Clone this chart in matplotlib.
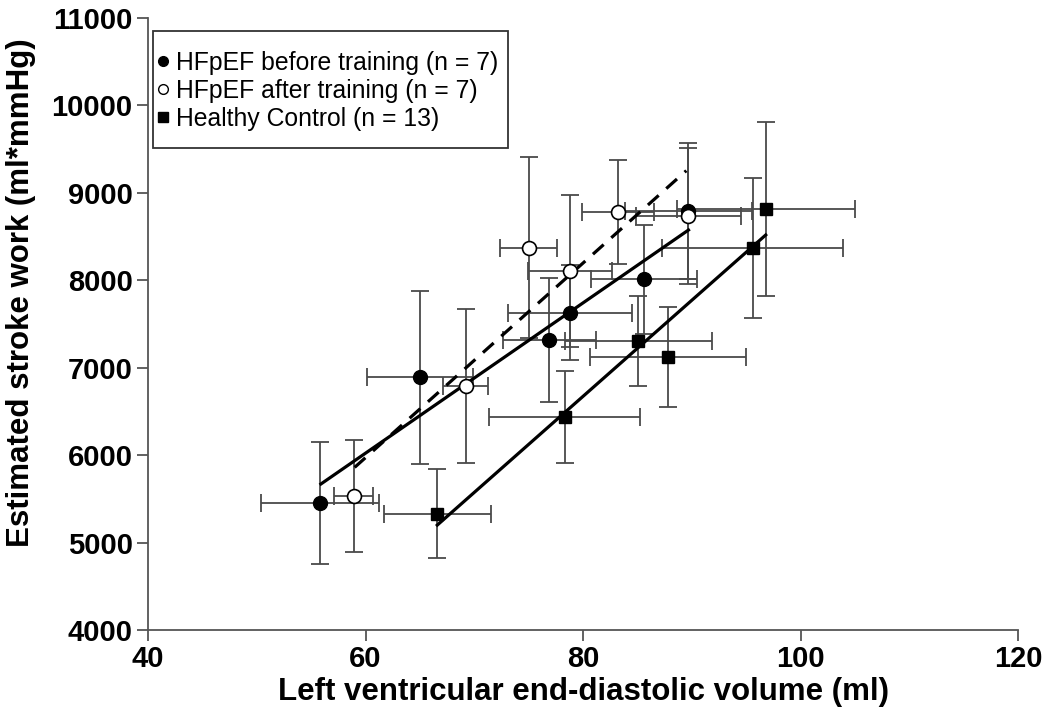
import numpy as np
import matplotlib
matplotlib.use('Agg')
import matplotlib.pyplot as plt
from matplotlib.lines import Line2D
from matplotlib.patches import Rectangle

plt.rcParams['font.family'] = ['Liberation Sans', 'DejaVu Sans']

# HFpEF before training (filled circles)
before_x = [55.8, 65.0, 76.9, 78.8, 85.6, 89.7]
before_y = [5450, 6890, 7315, 7630, 8010, 8795]
before_xerr = [5.4, 4.9, 4.3, 5.7, 4.9, 5.8]
before_yerr = [700, 990, 710, 540, 620, 780]

# HFpEF after training (open circles)
after_x = [58.9, 69.2, 75.0, 78.8, 83.2, 89.7]
after_y = [5535, 6790, 8375, 8110, 8785, 8735]
after_xerr = [1.8, 2.1, 2.65, 3.9, 3.3, 4.8]
after_yerr = [640, 885, 1030, 870, 595, 775]

# Healthy control (squares)
ctrl_x = [66.6, 78.3, 85.1, 87.8, 95.6, 96.8]
ctrl_y = [5330, 6435, 7310, 7120, 8370, 8815]
ctrl_xerr = [4.9, 6.95, 6.8, 7.2, 8.3, 8.2]
ctrl_yerr = [510, 525, 515, 572, 800, 997]

# regression line end points
before_fit_x = [55.9, 89.7]
before_fit_y = [5670, 8575]
after_fit_x = [59.0, 89.5]
after_fit_y = [5860, 9254]
ctrl_fit_x = [66.6, 96.8]
ctrl_fit_y = [5200, 8518]

labels = ['HFpEF before training (n = 7)',
          'HFpEF after training (n = 7)',
          'Healthy Control (n = 13)']

fig = plt.figure(figsize=(10.5, 7.23), dpi=100)
ax = fig.add_axes([148 / 1050, 93 / 723, 870 / 1050, 612 / 723])

eb_color = '#4a4a4a'
for xs, ys, xe, ye in [(before_x, before_y, before_xerr, before_yerr),
                       (after_x, after_y, after_xerr, after_yerr),
                       (ctrl_x, ctrl_y, ctrl_xerr, ctrl_yerr)]:
    ax.errorbar(xs, ys, xerr=xe, yerr=ye, fmt='none', ecolor=eb_color,
                elinewidth=1.3, capsize=6.5, capthick=1.3, zorder=1)

# regression lines
ax.plot(before_fit_x, before_fit_y, color='black', lw=2.3, zorder=2)
ax.plot(after_fit_x, after_fit_y, color='black', lw=2.3, ls=(0, (4.5, 3.2)), zorder=2)
ax.plot(ctrl_fit_x, ctrl_fit_y, color='black', lw=2.3, zorder=2)

# markers
ax.plot(before_x, before_y, 'o', color='black', ms=10, zorder=3)
ax.plot(after_x, after_y, 'o', mfc='white', mec='black', mew=1.2, ms=10, zorder=3)
ax.plot(ctrl_x, ctrl_y, 's', color='black', ms=9, zorder=3)

ax.set_xlim(40, 120)
ax.set_ylim(4000, 11000)
ax.set_xticks([40, 60, 80, 100, 120])
ax.set_yticks(np.arange(4000, 11001, 1000))

for s in ['top', 'right']:
    ax.spines[s].set_visible(False)
for s in ['left', 'bottom']:
    ax.spines[s].set_color('#555555')
    ax.spines[s].set_linewidth(1.3)
ax.tick_params(direction='out', width=1.3, color='#555555', labelsize=21,
               length=8, pad=3)
for lab in ax.get_xticklabels() + ax.get_yticklabels():
    lab.set_fontweight('bold')

ax.set_xlabel('Left ventricular end-diastolic volume (ml)', fontsize=22.5,
              fontweight='bold')
ax.xaxis.label.set_va('center')
ax.xaxis.set_label_coords(0.5, -(692 - 630) / 612)
ax.set_ylabel('Estimated stroke work (ml*mmHg)', fontsize=22.5,
              fontweight='bold')
ax.yaxis.label.set_va('center')
ax.yaxis.set_label_coords(-(148 - 21) / 870, (630 - 293) / 612)

# legend (frame drawn separately)
handles = [Line2D([], [], ls='none', marker='o', color='black', ms=7),
           Line2D([], [], ls='none', marker='o', mfc='white', mec='black', ms=7),
           Line2D([], [], ls='none', marker='s', color='black', ms=6.5)]
fig.legend(handles, labels, loc='upper left',
           bbox_to_anchor=(153 / 1050, 1 - 46 / 723),
           bbox_transform=fig.transFigure, borderaxespad=0,
           fontsize=17.8, frameon=False,
           handlelength=0.4, handletextpad=0.35, labelspacing=0.16,
           borderpad=0.2)
fig.add_artist(Rectangle((153 / 1050, 1 - 148 / 723), (508 - 153) / 1050,
                         (148 - 31) / 723, transform=fig.transFigure,
                         fill=False, edgecolor='#333333', linewidth=1.3))

fig.savefig('out.png', dpi=100)
